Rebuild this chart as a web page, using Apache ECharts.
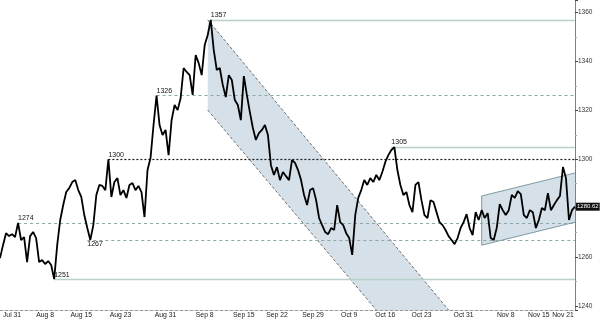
<!DOCTYPE html>
<html><head><meta charset="utf-8">
<script src="https://cdn.jsdelivr.net/npm/echarts@6/dist/echarts.min.js"></script>
<style>html,body{margin:0;padding:0;background:#fff}#c{width:600px;height:323px}</style>
</head><body><div id="c"></div>
<script>
// Price path (sampled ~ every 0.4 business day), Jul 28 - Nov 22, 2017
const prices = [
1259.6,1264.9,1269.8,1268.6,1269.4,1268.2,1274.0,1267.0,1268.2,1258.0,
1268.6,1270.3,1267.8,1258.0,1258.8,1257.2,1258.4,1256.8,1251.0,1264.9,
1275.2,1281.3,1286.6,1288.2,1290.7,1291.5,1287.4,1284.6,1277.2,1271.9,
1267.0,1273.1,1285.4,1289.5,1289.1,1287.4,1300.0,1284.6,1290.7,1292.3,
1285.4,1287.4,1284.2,1289.5,1290.3,1287.4,1289.1,1286.6,1276.4,1295.6,
1300.5,1314.0,1326.0,1314.0,1309.9,1312.0,1301.7,1316.0,1322.2,1320.1,
1325.0,1337.3,1335.7,1334.4,1326.3,1342.6,1339.3,1334.4,1346.7,1350.8,
1357.0,1344.7,1336.5,1337.3,1330.4,1325.4,1334.4,1332.4,1324.2,1322.2,
1316.0,1334.0,1326.3,1319.3,1312.8,1307.9,1310.7,1312.0,1314.0,1309.9,
1297.6,1293.6,1296.8,1291.5,1294.8,1293.1,1291.5,1299.7,1298.5,1295.6,
1291.5,1285.4,1281.3,1287.4,1288.2,1283.3,1276.0,1273.1,1270.3,1269.4,
1271.9,1271.1,1281.3,1274.3,1273.1,1269.8,1267.8,1260.9,1277.2,1284.2,
1287.4,1291.5,1289.5,1292.3,1290.7,1293.6,1291.5,1294.8,1298.9,1301.7,
1303.8,1305.0,1295.6,1289.5,1285.4,1286.6,1281.3,1278.4,1289.5,1290.7,
1283.3,1277.2,1276.0,1283.3,1282.5,1278.4,1274.3,1273.1,1271.1,1268.6,
1267.0,1265.3,1267.8,1271.9,1274.3,1277.6,1271.9,1269.0,1278.4,1275.2,
1279.2,1276.0,1278.0,1267.8,1267.0,1271.9,1281.7,1279.2,1277.2,1279.2,
1285.4,1284.2,1287.0,1285.8,1277.2,1276.0,1279.2,1278.4,1271.9,1275.2,
1280.1,1279.2,1286.2,1279.2,1281.3,1283.3,1285.0,1296.8,1292.3,1275.2,
1279.2,1280.62
];
const categories = prices.map((_, i) => i);
const lastPrice = 1280.62;

// x tick labels and the sample index they sit at
const tickLabels = ['Jul 31','Aug 8','Aug 15','Aug 23','Aug 31','Sep 8','Sep 15','Sep 22','Sep 29','Oct 9','Oct 16','Oct 23','Oct 31','Nov 8','Nov 15','Nov 21'];
const tickIndex  = [4,15,27,40,55,68,81,92,104,116,128,140,154,168,179,187];
const yearLabel = '2017';

// y axis range
const yMin = 1238.4, yMax = 1365.1;

// horizontal support / resistance levels
const levelValues = [1357, 1326, 1305, 1300, 1274, 1267, 1251];
const levelStart  = [70, 52, 130, 36, 6, 29, 18];
const levelKind   = ['solid','dash','solid','dot','dash','dash','solid'];
const levelBelow  = [false,false,false,false,false,true,false];

// channels [index, price]
const downUpper = [[69.4, 1357.0], [148.5, 1238.4]];
const downLower = [[69.1, 1320.1], [124.6, 1238.4]];
const upUpper   = [[160.4, 1285.0], [191, 1294.4]];
const upLower   = [[160.4, 1264.9], [191, 1274.3]];

const FONT = 'Liberation Sans';
const kindStyle = {
  solid: {color:'#b9d0cb', type:'solid', width:1.3},
  dash:  {color:'#8aa9a2', type:[3,3], width:1},
  dot:   {color:'#1a1a1a', type:[2,2], width:1.2}
};
const lastIdx = prices.length - 1;
const lbl = {};
tickIndex.forEach((ix, k) => { lbl[ix] = tickLabels[k]; });

const chart = echarts.init(document.getElementById('c'));
chart.setOption({
  animation: false,
  backgroundColor: '#fff',
  grid: {left: 0, right: 25, top: 0, bottom: 13, containLabel: false, outerBoundsMode: 'none'},
  xAxis: {
    type: 'category', data: categories, boundaryGap: false,
    axisLine: {lineStyle: {color: '#9a9a9a', type: [3, 2], width: 1}},
    axisTick: {show: false},
    axisLabel: {
      interval: 0,
      formatter: (v, i) => lbl[i] || '',
      hideOverlap: false,
      fontSize: 6.8, color: '#222', margin: 2, fontFamily: FONT
    },
    name: yearLabel, nameLocation: 'middle', nameGap: 10,
    nameTextStyle: {fontSize: 6.5, color: '#222', fontFamily: FONT},
    splitLine: {show: false}
  },
  yAxis: {
    type: 'value', position: 'right', min: yMin, max: yMax,
    minInterval: 20, maxInterval: 20, splitNumber: 6,
    axisLine: {show: true, lineStyle: {color: '#808080'}},
    axisTick: {show: true, length: 3, lineStyle: {color: '#444'}},
    minorTick: {show: true, splitNumber: 2, length: 2, lineStyle: {color: '#aaa'}},
    splitLine: {show: false},
    axisLabel: {
      formatter: (v) => (Math.abs(v % 20) < 1e-6 ? String(v) : ''),
      showMinLabel: false, showMaxLabel: false,
      fontSize: 6.5, color: '#333', margin: 3, fontFamily: FONT
    }
  },
  series: [
    {
      type: 'custom', coordinateSystem: 'cartesian2d', data: [[0, 1300]], z: 1, silent: true, clip: true,
      renderItem: function (params, api) {
        const p = (a) => api.coord(a);
        const dn = [p(downUpper[0]), p(downUpper[1]), p(downLower[1]), p(downLower[0])];
        const up = [p(upUpper[0]), p(upUpper[1]), p(upLower[1]), p(upLower[0])];
        const seg = (a, b, style) => ({type: 'line', shape: {x1: a[0], y1: a[1], x2: b[0], y2: b[1]}, style: style});
        const dash = {stroke: '#6e6e6e', lineWidth: 1, lineDash: [3, 2]};
        const solid = {stroke: '#7f99a3', lineWidth: 1};
        return {type: 'group', children: [
          {type: 'polygon', shape: {points: dn}, style: {fill: '#d5e0e8'}},
          {type: 'polygon', shape: {points: up}, style: {fill: '#d5e0e8'}},
          seg(dn[0], dn[1], dash), seg(dn[3], dn[2], dash),
          seg(up[0], up[1], solid), seg(up[3], up[2], solid), seg(up[0], up[3], solid)
        ]};
      },
      markLine: {
        silent: true, symbol: 'none',
        data: levelValues.map((v, k) => [
          {coord: [levelStart[k], v], lineStyle: kindStyle[levelKind[k]],
           label: {show: true, formatter: String(v), position: levelBelow[k] ? 'insideStartBottom' : 'insideStartTop',
                   fontSize: 7, color: '#111', fontFamily: FONT, distance: [0, 1]}},
          {coord: [lastIdx, v]}
        ])
      }
    },
    {
      type: 'line', data: prices, symbol: 'none', z: 5,
      lineStyle: {color: '#000', width: 1.8},
      markLine: {
        silent: true, symbol: 'none',
        data: [{yAxis: lastPrice}],
        lineStyle: {color: 'rgba(0,0,0,0)', width: 0},
        label: {show: true, position: 'end', formatter: lastPrice.toFixed(2), backgroundColor: '#111',
                color: '#fff', fontSize: 6, padding: [1, 1], distance: 1, fontFamily: FONT}
      }
    }
  ]
});
</script>
</body></html>
